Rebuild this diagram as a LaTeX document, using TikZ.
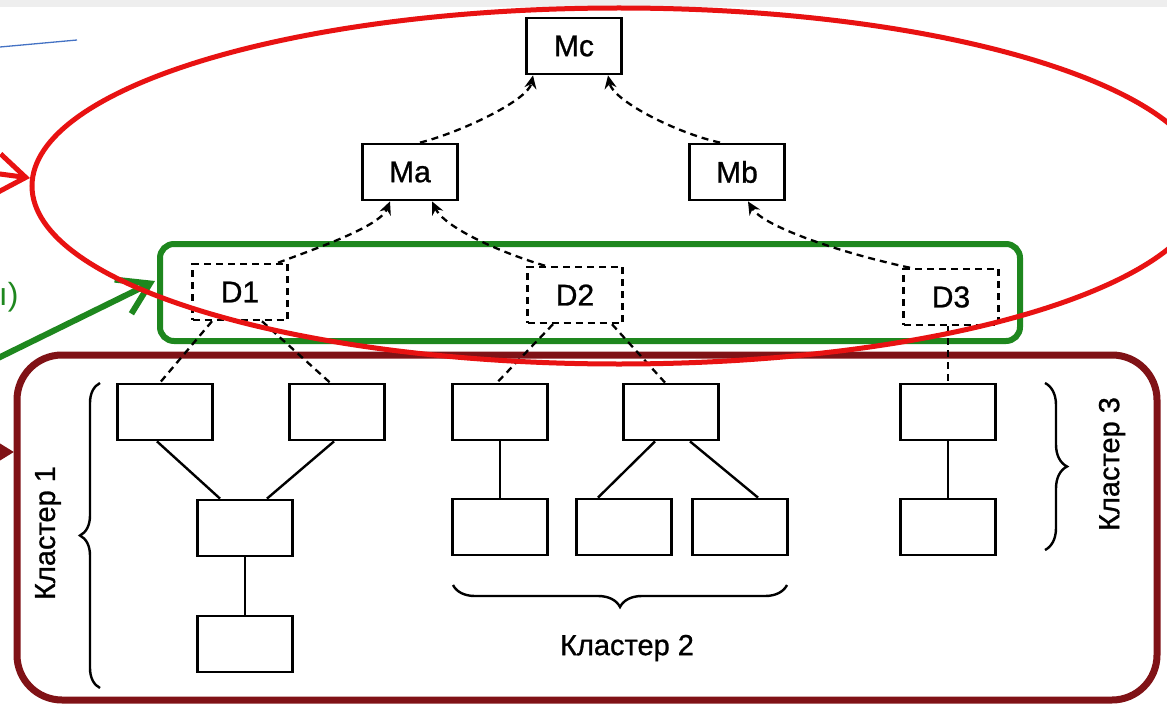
\documentclass[tikz,border=0pt]{standalone}
\usepackage{fontspec}
\setmainfont{Liberation Sans}
\newfontfamily\semib{Liberation Sans}[FakeBold=0.9]
\usetikzlibrary{arrows.meta,calc,decorations.pathreplacing}
\definecolor{ellred}{RGB}{232,18,18}
\definecolor{grn}{RGB}{30,135,30}
\definecolor{drk}{RGB}{128,18,22}
\definecolor{bl}{RGB}{68,114,196}
\begin{document}
\begin{tikzpicture}[x=1pt,y=-1pt,
  box/.style={draw, line width=2.8pt, minimum width=95pt, minimum height=56pt, inner sep=0pt, font=\semib\fontsize{30}{32}\selectfont},
  dbox/.style={box, line width=2.5pt, dash pattern=on 7pt off 5pt},
  link/.style={line width=2.4pt},
  dlink/.style={line width=2.3pt, dash pattern=on 7pt off 5pt},
  darr/.style={dlink, -{Stealth[length=13pt,width=12pt]}},
  brc/.style={decorate, decoration={brace, amplitude=20pt}, line width=2.4pt},
  lbl/.style={font=\semib\fontsize{29}{31}\selectfont}]
\useasboundingbox (0,0) rectangle (1167,706);
\clip (0,0) rectangle (1167,706);
\fill[white] (0,0) rectangle (1167,706);
\fill[gray!13] (0,0) rectangle (1167,7);

% containers
\draw[drk, line width=7pt, rounded corners=45pt] (17,355) rectangle (1157,700);
\draw[grn, line width=6pt, rounded corners=14pt] (160,244) rectangle (1020,341);

% nodes
\node[box] (mc) at (574,46) {Mc};
\node[box] (ma) at (410,172) {Ma};
\node[box] (mb) at (737,172) {Mb};
\node[dbox] (d1) at (240,292) {D1};
\node[dbox] (d2) at (575,295) {D2};
\node[dbox] (d3) at (951,297) {D3};
\node[box] (a1) at (165,412) {};
\node[box] (a2) at (337,412) {};
\node[box] (a3) at (245,528) {};
\node[box] (a4) at (245,644) {};
\node[box] (b1) at (500,412) {};
\node[box] (b2) at (671,412) {};
\node[box] (b3) at (500,527) {};
\node[box] (b4) at (624,527) {};
\node[box] (b5) at (740,527) {};
\node[box] (c1) at (948,412) {};
\node[box] (c2) at (948,527) {};

% solid links
\draw[link] ($(a1.south)+(-8,0)$) -- ($(a3.north)+(-25,0)$);
\draw[link] ($(a2.south)+(-3,0)$) -- ($(a3.north)+(22,0)$);
\draw[link] (a3) -- (a4);
\draw[link] (b1) -- (b3);
\draw[link] ($(b2.south)+(-16,0)$) -- ($(b4.north)+(-26,0)$);
\draw[link] ($(b2.south)+(19,0)$) -- ($(b5.north)+(18,0)$);
\draw[link] (c1) -- (c2);

% dashed links
\draw[dlink] ($(d1.south)+(-28,0)$) -- ($(a1.north)+(-5,0)$);
\draw[dlink] ($(d1.south)+(22,0)$) -- ($(a2.north)+(-7,0)$);
\draw[dlink] ($(d2.south)+(-22,0)$) -- ($(b1.north)+(-3,0)$);
\draw[dlink] ($(d2.south)+(37,0)$) -- ($(b2.north)+(-6,0)$);
\draw[dlink] ($(d3.south)+(-3,0)$) -- (c1.north);

% dashed arrows
\draw[darr] ($(d1.north)+(38,0)$) .. controls +(40,-15) and +(-10,25) .. ($(ma.south)+(-20,0)$);
\draw[darr] ($(d2.north)+(-30,0)$) .. controls +(-50,-15) and +(12,25) .. ($(ma.south)+(22,0)$);
\draw[darr] ($(d3.north)+(-41,0)$) .. controls +(-70,-15) and +(15,25) .. ($(mb.south)+(11,0)$);
\draw[darr] ($(ma.north)+(10,0)$) .. controls +(40,-10) and +(-5,25) .. ($(mc.south)+(-41,0)$);
\draw[darr] ($(mb.north)+(-17,0)$) .. controls +(-45,-10) and +(5,25) .. ($(mc.south)+(34,0)$);

% braces and cluster labels
\draw[brc] (100,688) -- (100,383);
\node[lbl, rotate=90] (k1) at (48,533) {Кластер 1};
\draw[brc, decoration={amplitude=22pt}] (787,585) -- (453,585);
\node[lbl] (k2) at (627,648) {Кластер 2};
\draw[brc, decoration={amplitude=22pt}] (1045,383) -- (1045,550);
\node[lbl, rotate=90] (k3) at (1112,464) {Кластер 3};

% outer arrows and marks
\coordinate (btA) at (0,47);
\coordinate (btB) at (77,40);
\draw[bl, line width=1.3pt] (btA) -- (btB);
\coordinate (rtail) at (-30,170);
\coordinate (rtip) at (30,178);
\draw[ellred, line width=5pt, -{Straight Barb[length=28pt,width=40pt]}] (rtail) -- (rtip);
\coordinate (gtail) at (-10,362);
\coordinate (gtip) at (155,281);
\draw[grn, line width=6pt, -{Straight Barb[length=30pt,width=38pt]}] (gtail) -- (gtip);
\coordinate (dtail) at (-30,452);
\coordinate (dtip) at (14,452);
\draw[drk, line width=4pt, -{Triangle[length=14pt,width=16pt]}] (dtail) -- (dtip);
\node[grn, font=\fontsize{32}{34}\selectfont, anchor=east] (gt) at (22,297) {ı)};

% red ellipse on top
\draw[ellred, line width=5pt] (619,186) ellipse [x radius=587pt, y radius=178pt];
\end{tikzpicture}
\end{document}
